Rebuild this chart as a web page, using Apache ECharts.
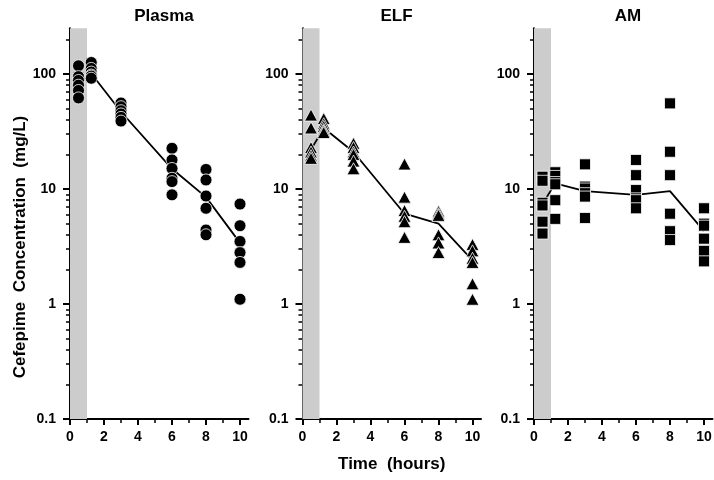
<!DOCTYPE html>
<html><head><meta charset="utf-8">
<script src="https://cdn.jsdelivr.net/npm/echarts@6/dist/echarts.min.js"></script>
<style>html,body{margin:0;padding:0;background:#fff}#c{width:714px;height:480px}</style>
</head><body><div id="c"></div>
<script>
const panelTitles = ['Plasma', 'ELF', 'AM'];
const sampleTimes = [0.5, 1.25, 3, 6, 8, 10];
const plasmaValues = [[118, 95, 88, 80, 72, 62], [126, 112, 104, 98, 96, 92], [56, 52, 48, 45, 42, 39], [22.6, 17.9, 15.1, 12.4, 11.6, 8.9], [14.8, 12, 8.7, 6.8, 4.4, 4.0], [7.4, 4.8, 3.5, 2.8, 2.3, 1.1]];
const plasmaMedian = [84, 101, 47, 15, 8.5, 3.4];
const elfValues = [[44, 34, 23, 21, 19.5, 18.5], [41, 37, 35, 33, 32, 31], [25, 23, 21, 20, 17.5, 15], [16.5, 8.5, 6.5, 5.8, 5.2, 3.8], [6.4, 6.1, 5.9, 4.0, 3.4, 2.8], [3.3, 2.9, 2.5, 2.3, 1.5, 1.1]];
const elfMedian = [22, 34, 21, 6.1, 5.0, 2.4];
const amValues = [[12.8, 11.8, 7.6, 7.2, 5.2, 4.1], [14, 13, 11.5, 11, 8, 5.5], [16.4, 10.5, 10.1, 9.2, 8.6, 5.6], [17.9, 13.2, 9.8, 8.3, 8.0, 6.8], [55.6, 21.1, 13.2, 6.1, 4.3, 3.6], [6.8, 5.0, 4.8, 3.7, 2.9, 2.35]];
const amMedian = [7.4, 11.2, 9.6, 8.9, 9.6, 4.3];
const yTickValues = [0.1, 1, 10, 100];
const yMinorValues = [0.2, 0.3, 0.4, 0.5, 0.6, 0.7, 0.8, 0.9, 2, 3, 4, 5, 6, 7, 8, 9, 20, 30, 40, 50, 60, 70, 80, 90, 200];
const yRange = [0.1, 250];
const xTickValues = [0, 2, 4, 6, 8, 10];
const xMinorValues = [1, 3, 5, 7, 9];
const xRange = [0, 10.5];
const infusionBand = [0, 1];
const xTitle = 'Time  (hours)';
const yTitle = 'Cefepime  Concentration  (mg/L)';

const FONT = 'Liberation Sans, Arial, sans-serif';
const lg = v => Math.log10(v);
const fmt = v => String(Number(Math.pow(10, v).toPrecision(3)));

const panels = [
  {vals: plasmaValues, med: plasmaMedian, symbol: 'circle', size: 12},
  {vals: elfValues, med: elfMedian, symbol: 'triangle', size: [13, 12]},
  {vals: amValues, med: amMedian, symbol: 'rect', size: 11}
];
const lefts = [70, 302.5, 534];
const gw = 178.5, gt = 28.3, gh = 390.7;

const grid = [], xAxis = [], yAxis = [], series = [], title = [];
panels.forEach((p, i) => {
  grid.push({left: lefts[i], top: gt, width: gw, height: gh, outerBoundsMode: 'none', containLabel: false});
  title.push({text: panelTitles[i], left: lefts[i] + 89, top: 3, textAlign: 'center',
    textStyle: {fontFamily: FONT, fontSize: 17, fontWeight: 'bold', color: '#000'}});
  xAxis.push({type: 'value', gridIndex: i, position: 'bottom', min: xRange[0], max: xRange[1],
    axisLine: {onZero: false, lineStyle: {color: '#000', width: 2}},
    axisTick: {customValues: xTickValues, length: 6, lineStyle: {color: '#000', width: 2}},
    axisLabel: {customValues: xTickValues, margin: 11, color: '#000', fontFamily: FONT, fontSize: 14, fontWeight: 'bold'},
    splitLine: {show: false},
    name: i === 1 ? xTitle : '', nameLocation: 'middle', nameGap: 37,
    nameTextStyle: {fontFamily: FONT, fontSize: 17, fontWeight: 'bold', color: '#000'}});
  xAxis.push({type: 'value', gridIndex: i, position: 'bottom', min: xRange[0], max: xRange[1],
    axisLine: {show: false, onZero: false},
    axisTick: {customValues: xMinorValues, length: 4, lineStyle: {color: '#000', width: 1.5}},
    axisLabel: {show: false}, splitLine: {show: false}});
  yAxis.push({type: 'value', gridIndex: i, position: 'left', min: lg(yRange[0]), max: lg(yRange[1]),
    axisLine: {show: true, onZero: false, lineStyle: {color: '#000', width: 2}},
    axisTick: {show: true, customValues: yTickValues.map(lg), length: 7, lineStyle: {color: '#000', width: 2}},
    axisLabel: {customValues: yTickValues.map(lg), formatter: fmt, margin: 14, color: '#000', fontFamily: FONT, fontSize: 14, fontWeight: 'bold'},
    splitLine: {show: false}});
  yAxis.push({type: 'value', gridIndex: i, position: 'left', min: lg(yRange[0]), max: lg(yRange[1]),
    axisLine: {show: false, onZero: false},
    axisTick: {show: true, customValues: yMinorValues.map(lg), length: 4, lineStyle: {color: '#000', width: 1.5}},
    axisLabel: {show: false}, splitLine: {show: false}});
  const pts = [];
  p.vals.forEach((grp, k) => grp.forEach(v => pts.push([sampleTimes[k], lg(v)])));
  series.push({type: 'line', xAxisIndex: 2 * i, yAxisIndex: 2 * i, z: 2,
    data: p.med.map((v, k) => [sampleTimes[k], lg(v)]),
    showSymbol: false, symbol: 'none', lineStyle: {color: '#000', width: 1.8}, silent: true,
    markArea: {silent: true, itemStyle: {color: '#cccccc'}, data: [[{xAxis: infusionBand[0]}, {xAxis: infusionBand[1]}]]}});
  series.push({type: 'scatter', xAxisIndex: 2 * i, yAxisIndex: 2 * i, z: 3,
    data: pts, symbol: p.symbol, symbolSize: p.size,
    itemStyle: {color: '#000', borderColor: '#fff', borderWidth: 0.8, opacity: 1}});
});

const chart = echarts.init(document.getElementById('c'), null, {renderer: 'canvas'});
chart.setOption({
  animation: false,
  backgroundColor: '#fff',
  title, grid, xAxis, yAxis, series,
  graphic: [{type: 'text', x: 20, y: 247, rotation: Math.PI / 2,
    style: {text: yTitle, fontFamily: FONT, fontSize: 17, fontWeight: 'bold', fill: '#000', align: 'center', verticalAlign: 'middle'}}]
});
</script></body></html>
